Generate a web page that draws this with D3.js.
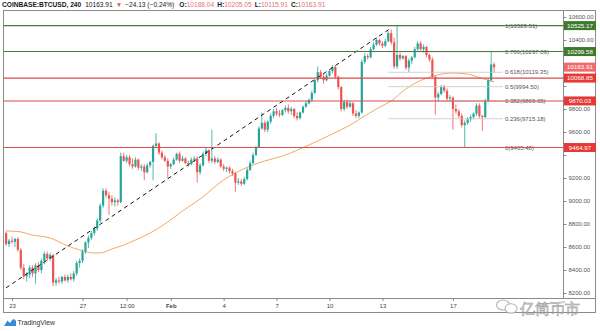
<!DOCTYPE html>
<html>
<head>
<meta charset="utf-8">
<script src="https://cdn.jsdelivr.net/npm/d3@7"></script>
<style>
  body { margin: 0; background: #fff; }
  svg { display: block; }
  text { font-family: "Liberation Sans", Arial, sans-serif; }
</style>
</head>
<body>
<svg id="chart" width="600" height="331"></svg>
<script>
// BTCUSD 4-hour candles, Jan 22 16:00 to Feb 19 08:00
const opens = [
  8720,8625,8655,8645,8670,8575,8420,8345,8360,8420,
  8370,8440,8400,8480,8540,8500,8530,8290,8310,8300,
  8340,8310,8340,8320,8370,8460,8480,8560,8640,8680,
  8720,8760,8830,8960,9090,9050,9020,8990,9005,8990,
  9390,9350,9380,9320,9300,9360,9290,9300,9250,9310,
  9340,9480,9500,9420,9380,9350,9300,9320,9360,9410,
  9350,9370,9330,9320,9360,9370,9250,9310,9410,9440,
  9350,9370,9340,9360,9300,9280,9290,9260,9240,9160,
  9170,9150,9190,9270,9330,9400,9470,9630,9680,9620,
  9690,9740,9780,9760,9750,9790,9810,9780,9800,9740,
  9720,9770,9820,9850,9880,9940,10050,10120,10080,10050,
  10090,10130,10165,10080,9990,9800,9860,9820,9850,9760,
  9740,9770,10210,10260,10250,10320,10360,10400,10370,10350,
  10390,10460,10380,10170,10270,10240,10260,10160,10220,10250,
  10320,10370,10320,10340,10270,10230,10080,9900,9930,9990,
  9960,9890,9900,9800,9780,9740,9660,9680,9710,9730,
  9760,9830,9740,9730,9870,10050,10188.04
];
const highs = [
  8735,8670,8690,8680,8685,8590,8450,8380,8440,8440,
  8460,8470,8500,8560,8560,8550,8540,8330,8340,8350,
  8360,8360,8370,8390,8480,8500,8580,8650,8700,8740,
  8780,8850,8980,9110,9110,9080,9050,9030,9020,9420,
  9420,9400,9400,9370,9380,9370,9320,9320,9330,9350,
  9490,9590,9510,9440,9400,9370,9330,9380,9420,9430,
  9390,9380,9350,9380,9390,9390,9330,9430,9460,9450,
  9620,9390,9380,9370,9320,9300,9300,9280,9250,9200,
  9190,9210,9290,9350,9420,9480,9650,9770,9700,9700,
  9760,9800,9810,9790,9800,9830,9840,9820,9810,9770,
  9780,9830,9870,9890,9960,10060,10170,10140,10110,10110,
  10140,10180,10180,10090,10000,9880,9880,9870,9860,9790,
  9780,10230,10290,10280,10340,10380,10420,10410,10390,10410,
  10480,10490,10420,10523.51,10290,10270,10270,10240,10260,10340,
  10390,10390,10360,10350,10280,10250,10090,9950,10010,10010,
  9980,9920,9910,9840,9800,9760,9700,9730,9750,9770,
  9850,9850,9750,9890,10060,10297,10205.05
];
const lows = [
  8610,8600,8630,8600,8560,8400,8320,8300,8330,8340,
  8280,8380,8370,8450,8480,8480,8260,8260,8280,8280,
  8300,8290,8310,8300,8350,8420,8460,8540,8590,8660,
  8700,8740,8810,8940,9030,8880,8960,8950,8960,8980,
  9340,9330,9300,9280,9290,9270,9260,9180,9240,9290,
  9180,9460,9400,9360,9340,9200,9280,9310,9350,9330,
  9340,9320,9300,9310,9340,9160,9230,9300,9390,9330,
  9330,9320,9330,9290,9260,9250,9240,9220,9080,9140,
  9130,9140,9180,9260,9320,9390,9460,9620,9600,9600,
  9670,9720,9740,9730,9740,9770,9760,9750,9720,9700,
  9710,9760,9810,9840,9860,9930,10030,10060,10020,10040,
  10080,10110,10060,9970,9780,9780,9800,9810,9740,9720,
  9720,9760,10190,10230,10240,10310,10350,10350,10330,10340,
  10380,10360,10150,10150,10220,10230,10140,10120,10190,10240,
  10300,10300,10290,10250,10210,10070,9750,9860,9920,9940,
  9870,9860,9620,9760,9720,9640,9465.48,9660,9690,9710,
  9740,9720,9610,9720,9860,10040,10115.91
];
const closes = [
  8625,8655,8645,8670,8575,8420,8345,8360,8420,8370,
  8440,8400,8480,8540,8500,8530,8290,8310,8300,8340,
  8310,8340,8320,8370,8460,8480,8560,8640,8680,8720,
  8760,8830,8960,9090,9050,9020,8990,9005,8990,9390,
  9350,9380,9320,9300,9360,9290,9300,9250,9310,9340,
  9480,9500,9420,9380,9350,9300,9320,9360,9410,9350,
  9370,9330,9320,9360,9370,9250,9310,9410,9440,9350,
  9370,9340,9360,9300,9280,9290,9260,9240,9160,9170,
  9150,9190,9270,9330,9400,9470,9630,9680,9620,9690,
  9740,9780,9760,9750,9790,9810,9780,9800,9740,9720,
  9770,9820,9850,9880,9940,10050,10120,10080,10050,10090,
  10130,10165,10080,9990,9800,9860,9820,9850,9760,9740,
  9770,10210,10260,10250,10320,10360,10400,10370,10350,10390,
  10460,10380,10170,10270,10240,10260,10160,10220,10250,10320,
  10370,10320,10340,10270,10230,10080,9900,9930,9990,9960,
  9890,9900,9800,9780,9740,9660,9680,9710,9730,9760,
  9830,9740,9730,9870,10050,10188,10163.91
];

// moving average, sampled at candle indices
const maIndex  = [0, 4, 9, 15, 21, 25, 30, 32, 36, 40, 44, 49, 54, 60, 66, 74, 80, 88, 94, 103, 111, 117, 122, 127, 131, 136, 140, 145, 152, 157, 162, 166];
const maValues = [8739, 8735, 8704, 8678, 8609, 8574, 8548, 8548, 8583, 8617, 8661, 8722, 8800, 8913, 9017, 9183, 9270, 9348, 9391, 9487, 9583, 9660, 9740, 9815, 9870, 9975, 10035, 10085, 10113, 10104, 10065, 10035];

// dashed trend line anchors
const trendIndex  = [0, 131];
const trendValues = [8245, 10505];

// horizontal levels
const resistanceLevels = [10525.17, 10299.58];
const supportLevels    = [10068.85, 9870.03, 9464.97];
const lastPrice = 10163.91;

// fibonacci retracement
const fibRatios = ["1", "0.786", "0.618", "0.5", "0.382", "0.236", "0"];
const fibPrices = [10523.51, 10297.09, 10119.35, 9994.50, 9869.65, 9715.18, 9465.48];
const fibSpan = [130, 169];

// axes
const priceTicks = [8200, 8400, 8600, 8800, 9000, 9200, 9400, 9600, 9800, 10000, 10200, 10400, 10600];
const timeTickIndex  = [2, 26, 41, 56, 74, 92, 110, 128, 152];
const timeTickLabels = ["23", "27", "12:00", "Feb", "4", "7", "10", "13", "17"];

const header = {
  symbol: "COINBASE:BTCUSD, 240",
  last: "10163.91",
  change: "\u221224.13 (\u22120.24%)",
  o: "10188.04", h: "10205.05", l: "10115.91", c: "10163.91"
};

// ---------------------------------------------------------------
const UP = "#26a69a", DOWN = "#ef5350";
const GREEN_LINE = "#4d7a3c", GREEN_BOX = "#3d7a2c";
const RED_LINE = "#df4a4a", RED_BOX = "#e53935", LAST_BOX = "#f26b6b";
const box = { left: 3.5, top: 10.5, right: 595.5, bottom: 312.5 };
const plotRight = 563.5, axisY = 298.5;

const svg = d3.select("#chart");
const n = closes.length;
const x = d3.scaleLinear().domain([0, n - 1]).range([6.1, 494.1]);
const y = d3.scaleLinear().domain([8200, 10600]).range([293, 17]);

svg.append("defs").append("clipPath").attr("id", "plot")
  .append("rect").attr("x", box.left).attr("y", box.top)
  .attr("width", plotRight - box.left).attr("height", axisY - box.top);

// header
const head = svg.append("text").attr("x", 2).attr("y", 7.2).attr("font-size", 6.6).attr("fill", "#131722");
head.append("tspan").attr("font-weight", "bold").text(header.symbol);
head.append("tspan").attr("dx", 4).text(header.last);
head.append("tspan").attr("dx", 3).attr("fill", DOWN).text("\u25BC");
head.append("tspan").attr("dx", 3).text(header.change);
[["O:", header.o], ["H:", header.h], ["L:", header.l], ["C:", header.c]].forEach((p, k) => {
  head.append("tspan").attr("dx", k === 0 ? 5 : 3).attr("font-weight", "bold").text(p[0]);
  head.append("tspan").attr("fill", "#e57373").text(p[1]);
});

// frame
svg.append("rect").attr("x", box.left).attr("y", box.top)
  .attr("width", box.right - box.left).attr("height", box.bottom - box.top)
  .attr("fill", "none").attr("stroke", "#8a8a8a").attr("stroke-width", 1);
svg.append("line").attr("x1", box.left).attr("x2", box.right).attr("y1", axisY).attr("y2", axisY)
  .attr("stroke", "#8a8a8a");
svg.append("line").attr("x1", plotRight).attr("x2", plotRight).attr("y1", box.top).attr("y2", axisY)
  .attr("stroke", "#8a8a8a");

const plot = svg.append("g").attr("clip-path", "url(#plot)");

// fibonacci grey lines and labels
const fibG = svg.append("g");
fibPrices.forEach((p, k) => {
  fibG.append("line").attr("x1", x(fibSpan[0])).attr("x2", x(fibSpan[1]))
    .attr("y1", y(p)).attr("y2", y(p)).attr("stroke", "#c8c8c8").attr("stroke-width", 0.8);
  fibG.append("text").attr("x", x(fibSpan[1]) + 2).attr("y", y(p) + 2.1)
    .attr("font-size", 6).attr("fill", "#555").text(fibRatios[k] + "(" + d3.format(".2f")(p) + ")");
});

// horizontal levels across the plot
const levelG = svg.append("g");
resistanceLevels.forEach(p => levelG.append("line").attr("x1", box.left).attr("x2", plotRight)
  .attr("y1", y(p)).attr("y2", y(p)).attr("stroke", GREEN_LINE).attr("stroke-width", 1.1));
supportLevels.forEach(p => levelG.append("line").attr("x1", box.left).attr("x2", plotRight)
  .attr("y1", y(p)).attr("y2", y(p)).attr("stroke", RED_LINE).attr("stroke-width", 1.1));

// moving average
const maPts = maIndex.map((i, k) => [i, maValues[k]]);
plot.append("path").datum(maPts)
  .attr("d", d3.line().x(d => x(d[0])).y(d => y(d[1])).curve(d3.curveMonotoneX))
  .attr("fill", "none").attr("stroke", "#f0a865").attr("stroke-width", 1);

// candles
const idx = d3.range(n);
const candles = plot.append("g");
candles.selectAll("line.wick").data(idx).join("line").attr("class", "wick")
  .attr("x1", i => x(i)).attr("x2", i => x(i))
  .attr("y1", i => y(highs[i])).attr("y2", i => y(lows[i]))
  .attr("stroke", i => closes[i] >= opens[i] ? UP : DOWN).attr("stroke-width", 0.8);
candles.selectAll("rect.body").data(idx).join("rect").attr("class", "body")
  .attr("x", i => x(i) - 1.1).attr("width", 2.2)
  .attr("y", i => y(Math.max(opens[i], closes[i])))
  .attr("height", i => Math.max(1, Math.abs(y(opens[i]) - y(closes[i]))))
  .attr("fill", i => closes[i] >= opens[i] ? UP : DOWN);

// dashed trend line
plot.append("line")
  .attr("x1", x(trendIndex[0])).attr("y1", y(trendValues[0]))
  .attr("x2", x(trendIndex[1])).attr("y2", y(trendValues[1]))
  .attr("stroke", "#111").attr("stroke-width", 1).attr("stroke-dasharray", "4,3.5");

// price tags on the axis (price labels under a tag are hidden)
const tagPrices = resistanceLevels.concat([lastPrice], supportLevels);
const hidden = v => tagPrices.some(p => Math.abs(y(p) - y(v)) < 8);

const yAxis = svg.append("g").attr("transform", `translate(${plotRight},0)`)
  .call(d3.axisRight(y).tickValues(priceTicks).tickFormat(d3.format(".2f")).tickSize(3).tickPadding(2));
yAxis.select(".domain").remove();
yAxis.selectAll("line").attr("stroke", "#8a8a8a");
yAxis.selectAll("text").attr("font-size", 6).attr("fill", "#555").attr("font-family", null)
  .style("display", d => hidden(d) ? "none" : null);

// time axis
const tAxis = svg.append("g").attr("transform", `translate(0,${axisY})`)
  .call(d3.axisBottom(x).tickValues(timeTickIndex)
    .tickFormat((d, k) => timeTickLabels[k]).tickSize(2.5).tickPadding(3));
tAxis.select(".domain").remove();
tAxis.selectAll("line").attr("stroke", "#8a8a8a");
tAxis.selectAll("text").attr("font-size", 6).attr("fill", "#444").attr("font-family", null)
  .attr("font-weight", (d, k) => timeTickLabels[k] === "Feb" ? "bold" : null);

function tag(p, fill) {
  const g = svg.append("g");
  g.append("rect").attr("x", plotRight + 0.5).attr("y", y(p) - 4.5).attr("width", 32).attr("height", 9)
    .attr("fill", fill);
  g.append("text").attr("x", plotRight + 16.5).attr("y", y(p) + 2.2).attr("text-anchor", "middle")
    .attr("font-size", 6.2).attr("fill", "#fff").text(d3.format(".2f")(p));
}
resistanceLevels.forEach(p => tag(p, GREEN_BOX));
tag(lastPrice, LAST_BOX);
supportLevels.forEach(p => tag(p, RED_BOX));

// TradingView mark
const tv = svg.append("g");
tv.append("path")
  .attr("d", "M4,326 L7.5,320.5 L10,323 L12.5,319.5 Q15,318.5 16,321 L16,326 Z")
  .attr("fill", "#3a8ad8");
tv.append("text").attr("x", 17.5).attr("y", 325).attr("font-size", 6.8).attr("fill", "#333")
  .text("TradingView");

// watermark
const wm = svg.append("g").attr("opacity", 0.85);
wm.append("ellipse").attr("cx", 503).attr("cy", 305).attr("rx", 6.5).attr("ry", 5)
  .attr("fill", "#fff").attr("stroke", "#aaa").attr("stroke-width", 1.1);
wm.append("ellipse").attr("cx", 511).attr("cy", 308.5).attr("rx", 6).attr("ry", 4.8)
  .attr("fill", "#fff").attr("stroke", "#aaa").attr("stroke-width", 1.1);
wm.append("text").attr("x", 520).attr("y", 314).attr("font-size", 15)
  .attr("font-family", "'Noto Sans CJK SC', sans-serif").attr("fill", "none")
  .attr("stroke", "#9a9a9a").attr("stroke-width", 0.7).text("亿简币市");
</script>
</body>
</html>
